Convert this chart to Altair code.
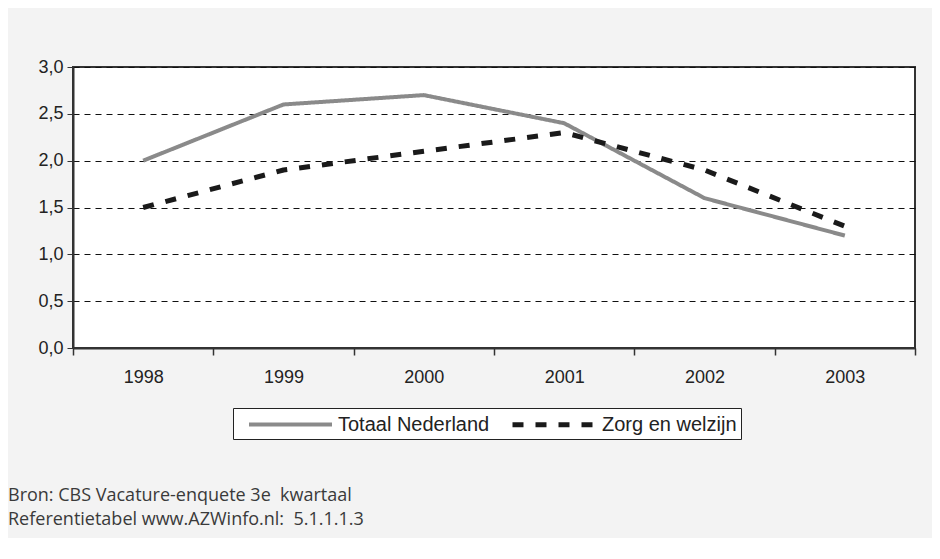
import altair as alt
import pandas as pd

years = ["1998", "1999", "2000", "2001", "2002", "2003"]
totaal = [2.0, 2.6, 2.7, 2.4, 1.6, 1.2]
zorg = [1.5, 1.9, 2.1, 2.3, 1.9, 1.3]
series_names = ["Totaal Nederland", "Zorg en welzijn"]
y_ticks = [0.0, 0.5, 1.0, 1.5, 2.0, 2.5, 3.0]
footer = ["Bron: CBS Vacature-enquete 3e\u00a0 kwartaal",
          "Referentietabel www.AZWinfo.nl:\u00a0 5.1.1.1.3"]

rows = []
for y, a, b in zip(years, totaal, zorg):
    rows.append({"jaar": y, "waarde": a, "reeks": series_names[0]})
    rows.append({"jaar": y, "waarde": b, "reeks": series_names[1]})
df = pd.DataFrame(rows)

pad_tail = "\u00a0" * 4


def make_legend():
    return alt.Legend(
        title=None, orient="none", legendX=160, legendY=341,
        direction="horizontal", symbolType="M-1,0L7.3,0",
        symbolSize=400, symbolStrokeWidth=4, symbolOffset=10,
        labelFont="Liberation Sans", labelFontSize=20, labelColor="#222",
        strokeColor="#222", fillColor="white", padding=4, columnPadding=10,
        labelOffset=67, labelLimit=400,
        labelExpr="datum.label == 'Zorg en welzijn' ? datum.label + '" + pad_tail + "' : datum.label",
    )


chart = alt.Chart(df).mark_line(strokeCap="butt", strokeJoin="round").encode(
    x=alt.X("jaar:N", sort=years, title=None,
            scale=alt.Scale(paddingInner=0, paddingOuter=0),
            axis=alt.Axis(labelAngle=0, tickBand="extent", labelFont="Liberation Sans",
                          labelFontSize=18, labelColor="#222", labelPadding=13,
                          tickColor="#333", tickSize=7, domainColor="#333", domainWidth=2,
                          tickWidth=1.5)),
    y=alt.Y("waarde:Q", title=None,
            scale=alt.Scale(domain=[0, 3], nice=False),
            axis=alt.Axis(values=y_ticks, labelExpr="replace(format(datum.value,'.1f'),'.',',')",
                          labelFont="Liberation Sans", labelFontSize=18, labelColor="#222",
                          grid=True, gridColor="#111", gridDash=[6, 5], gridWidth=1.2,
                          domainColor="#333", domainWidth=2, tickColor="#333", tickSize=6,
                          labelPadding=4)),
    color=alt.Color("reeks:N", sort=series_names,
                    scale=alt.Scale(domain=series_names, range=["#8a8a8a", "#1a1a1a"]),
                    legend=make_legend()),
    strokeDash=alt.StrokeDash("reeks:N", sort=series_names,
                              scale=alt.Scale(domain=series_names, range=[[1, 0], [11, 12]]),
                              legend=make_legend()),
    strokeWidth=alt.StrokeWidth("reeks:N", sort=series_names,
                                scale=alt.Scale(domain=series_names, range=[4, 5]),
                                legend=None),
).properties(
    width=842, height=281,
    autosize=alt.AutoSizeParams(type="none"),
    padding={"left": 65, "top": 59, "right": 17, "bottom": 190},
    background="#f3f3f3",
    title=alt.TitleParams(text=footer, orient="bottom", anchor="start", frame="group",
                          dx=-65, offset=47, font="Open Sans", fontSize=18, fontWeight="normal",
                          color="#3a3a3a", lineHeight=24),
).configure_view(stroke="#333", strokeWidth=2, fill="white")

chart.save("out.html", embed_options={"renderer": "svg", "actions": False})
